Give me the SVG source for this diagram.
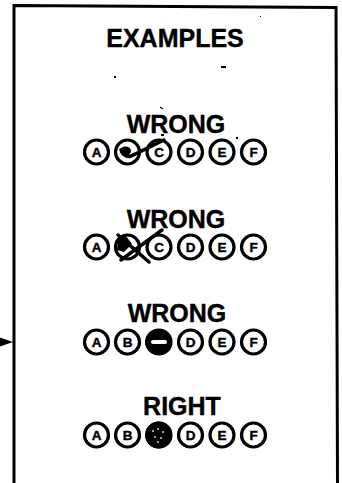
<svg xmlns="http://www.w3.org/2000/svg" width="342" height="483" viewBox="0 0 342 483">
<style>
.h{font-family:"Liberation Sans",Arial,sans-serif;font-weight:bold;font-size:25px;fill:#000;stroke:#000;stroke-width:0.4;text-anchor:middle}
.b{fill:#fff;stroke:#000;stroke-width:3.2}
.l{font-family:"Liberation Sans",Arial,sans-serif;font-weight:bold;font-size:13.5px;fill:#000;stroke:#000;stroke-width:0.4;text-anchor:middle}
.m{fill:none;stroke:#000;stroke-width:3.5;stroke-linecap:round}
</style>
<defs>
<g id="row">
<circle class="b" cx="96.5" cy="0" r="12"/>
<circle class="b" cx="127.5" cy="0" r="12"/>
<circle class="b" cx="159" cy="0" r="12"/>
<circle class="b" cx="190.5" cy="0" r="12"/>
<circle class="b" cx="222" cy="0" r="12"/>
<circle class="b" cx="253.5" cy="0" r="12"/>
</g>
</defs>
<rect width="342" height="483" fill="#fff"/>
<g id="frame">
<path d="M14,483 L14,5.5 L336,7.5 L337.5,483" fill="none" stroke="#000" stroke-width="3"/>
<text class="h" x="175" y="47">EXAMPLES</text>
<rect x="114" y="76" width="2" height="2" fill="#000"/>
<rect x="221" y="66" width="5" height="2" fill="#000"/>
<rect x="260" y="16" width="1" height="1" fill="#000"/>
</g>
<g id="example1">
<text class="h" x="176" y="133">WRONG</text>
<path d="M160,107 l3,2" stroke="#000" stroke-width="1.2"/>
<rect x="161" y="134" width="3" height="2" fill="#000"/>
<rect x="236" y="137" width="2" height="2" fill="#000"/>
<use href="#row" y="152"/>
<text class="l" x="96.5" y="157">A</text>
<text class="l" x="159" y="157">C</text>
<text class="l" x="190.5" y="157">D</text>
<text class="l" x="222" y="157">E</text>
<text class="l" x="253.5" y="157">F</text>
<ellipse cx="125.5" cy="151" rx="5.5" ry="4.5" fill="#000"/>
<path class="m" d="M121,150 Q124,158 131,156 L164,140"/>
</g>
<g id="example2">
<text class="h" x="176" y="228">WRONG</text>
<use href="#row" y="247"/>
<text class="l" x="96.5" y="252">A</text>
<text class="l" x="159" y="252">C</text>
<text class="l" x="190.5" y="252">D</text>
<text class="l" x="222" y="252">E</text>
<text class="l" x="253.5" y="252">F</text>
<path d="M118,240 Q120,236 126,236 L132,244 L124,252 L117,250 Z" fill="#000"/>
<path class="m" d="M118,235 L149,262"/>
<path class="m" d="M121,260 L162,230"/>
</g>
<g id="example3">
<text class="h" x="177" y="322">WRONG</text>
<use href="#row" y="342"/>
<text class="l" x="96.5" y="347">A</text>
<text class="l" x="127.5" y="347">B</text>
<text class="l" x="190.5" y="347">D</text>
<text class="l" x="222" y="347">E</text>
<text class="l" x="253.5" y="347">F</text>
<ellipse cx="158.5" cy="342" rx="13.5" ry="13" fill="#000"/>
<rect x="151" y="340" width="16" height="4" rx="2" fill="#fff"/>
</g>
<g id="example4">
<text class="h" x="182" y="415">RIGHT</text>
<use href="#row" y="435"/>
<text class="l" x="96.5" y="440">A</text>
<text class="l" x="127.5" y="440">B</text>
<text class="l" x="190.5" y="440">D</text>
<text class="l" x="222" y="440">E</text>
<text class="l" x="253.5" y="440">F</text>
<circle cx="158.5" cy="435" r="13.5" fill="#000"/>
<g fill="#999">
<rect x="152" y="430" width="2" height="2"/>
<rect x="157" y="428" width="2" height="2"/>
<rect x="162" y="431" width="2" height="2"/>
<rect x="154" y="436" width="2" height="2"/>
<rect x="160" y="437" width="2" height="2"/>
<rect x="157" y="441" width="2" height="2"/>
</g>
</g>
<g id="connectors">
<path d="M0,337.5 L13,342 L0,346.5 Z" fill="#000"/>
</g>
</svg>
